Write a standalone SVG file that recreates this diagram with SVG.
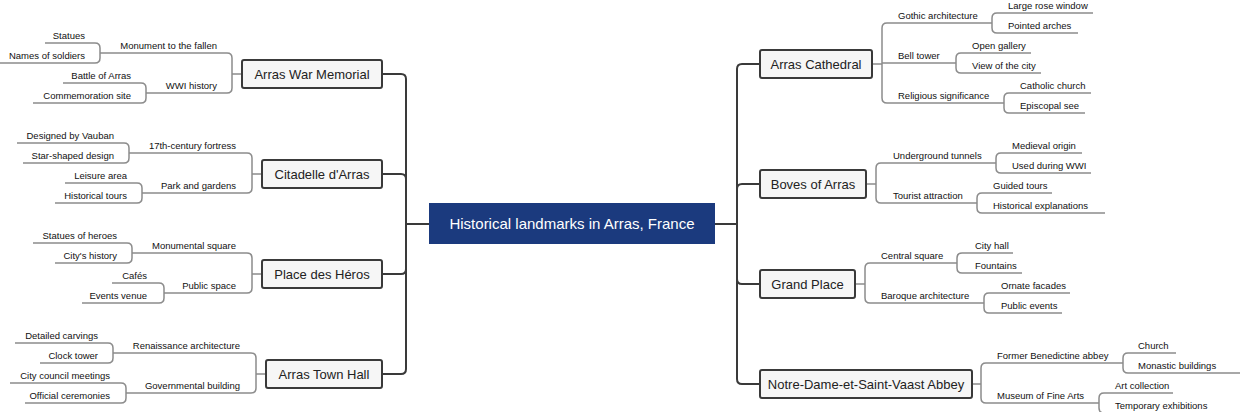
<svg xmlns="http://www.w3.org/2000/svg" width="1240" height="412" viewBox="0 0 1240 412">
<style>
.main{fill:none;stroke:#3a3a3a;stroke-width:2}
.sub{fill:none;stroke:#8c8c8c;stroke-width:1.5}
.box{fill:#f6f6f6;stroke:#3a3a3a;stroke-width:2}
.bt{font-family:"Liberation Sans",Arial,sans-serif;font-size:13px;fill:#222;text-anchor:middle}
.t{font-family:"Liberation Sans",Arial,sans-serif;font-size:9.5px;fill:#111}
.r{text-anchor:end}
</style>
<rect width="1240" height="412" fill="#fff"/>
<g id="connectors">
<path class="main" d="M429,224 H406 M406,224 V79 Q406,74 401,74 H382 M406,224 V179 Q406,174 401,174 H382 M406,224 V269 Q406,274 401,274 H382 M406,224 V369 Q406,374 401,374 H382"/>
<path class="main" d="M715,224 H737 M737,224 V69 Q737,64 742,64 H760 M737,224 V189 Q737,184 742,184 H760 M737,224 V279 Q737,284 742,284 H760 M737,224 V379 Q737,384 742,384 H760"/>
<path class="sub" d="M872,64 H882 M882,64 V28 Q882,23 887,23 H992 M882,64 V63 H956 M882,64 V98 Q882,103 887,103 H1004
M992,23 V18 Q992,13 997,13 H1093 M992,23 V28 Q992,33 997,33 H1078
M956,63 V58 Q956,53 961,53 H1031 M956,63 V68 Q956,73 961,73 H1041
M1004,103 V98 Q1004,93 1009,93 H1091 M1004,103 V108 Q1004,113 1009,113 H1085"/>
<path class="sub" d="M866,184 H876 M876,184 V168 Q876,163 881,163 H996 M876,184 V198 Q876,203 881,203 H977
M996,163 V158 Q996,153 1001,153 H1082 M996,163 V168 Q996,173 1001,173 H1091
M977,203 V198 Q977,193 982,193 H1052 M977,203 V208 Q977,213 982,213 H1105"/>
<path class="sub" d="M855,284 H865 M865,284 V268 Q865,263 870,263 H957 M865,284 V298 Q865,303 870,303 H984
M957,263 V258 Q957,253 962,253 H1013 M957,263 V268 Q957,273 962,273 H1022
M984,303 V298 Q984,293 989,293 H1070 M984,303 V308 Q984,313 989,313 H1062"/>
<path class="sub" d="M972,384 H981 M981,384 V368 Q981,363 986,363 H1123 M981,384 V398 Q981,403 986,403 H1099
M1123,363 V358 Q1123,353 1128,353 H1176 M1123,363 V368 Q1123,373 1128,373 H1240
M1099,403 V398 Q1099,393 1104,393 H1173 M1099,403 V408 Q1099,413 1104,413 H1240"/>
<path class="sub" d="M242,74 H232 M232,74 V58 Q232,53 227,53 H100 M232,74 V88 Q232,93 227,93 H146
M100,53 V48 Q100,43 95,43 H45 M100,53 V58 Q100,63 95,63 H0
M146,93 V88 Q146,83 141,83 H63 M146,93 V98 Q146,103 141,103 H33"/>
<path class="sub" d="M262,174 H252 M252,174 V158 Q252,153 247,153 H129 M252,174 V188 Q252,193 247,193 H142
M129,153 V148 Q129,143 124,143 H17 M129,153 V158 Q129,163 124,163 H23
M142,193 V188 Q142,183 137,183 H65 M142,193 V198 Q142,203 137,203 H55"/>
<path class="sub" d="M262,274 H252 M252,274 V258 Q252,253 247,253 H132 M252,274 V288 Q252,293 247,293 H164
M132,253 V248 Q132,243 127,243 H33 M132,253 V258 Q132,263 127,263 H55
M164,293 V288 Q164,283 159,283 H112 M164,293 V298 Q164,303 159,303 H82"/>
<path class="sub" d="M266,374 H256 M256,374 V358 Q256,353 251,353 H113 M256,374 V388 Q256,393 251,393 H126
M113,353 V348 Q113,343 108,343 H15 M113,353 V358 Q113,363 108,363 H40
M126,393 V388 Q126,383 121,383 H10 M126,393 V398 Q126,403 121,403 H25"/>
</g>
<g id="root"><rect x="429" y="203" width="286" height="41" fill="#1b3a7e"/><text x="572" y="229" font-family="Liberation Sans,Arial,sans-serif" font-size="15" fill="#fff" text-anchor="middle">Historical landmarks in Arras, France</text></g>
<g id="n-memorial"><rect class="box" x="242" y="60" width="140" height="28" rx="2"/><text class="bt" x="312" y="79">Arras War Memorial</text>
<text class="t r" x="217" y="49">Monument to the fallen</text><text class="t r" x="217" y="89">WWI history</text>
<text class="t r" x="85" y="39">Statues</text><text class="t r" x="85" y="59">Names of soldiers</text><text class="t r" x="131" y="79">Battle of Arras</text><text class="t r" x="131" y="99">Commemoration site</text></g>
<g id="n-citadelle"><rect class="box" x="262" y="160" width="120" height="28" rx="2"/><text class="bt" x="322" y="179">Citadelle d'Arras</text>
<text class="t r" x="236" y="149">17th-century fortress</text><text class="t r" x="236" y="189">Park and gardens</text>
<text class="t r" x="114" y="139">Designed by Vauban</text><text class="t r" x="114" y="159">Star-shaped design</text><text class="t r" x="127" y="179">Leisure area</text><text class="t r" x="127" y="199">Historical tours</text></g>
<g id="n-heros"><rect class="box" x="262" y="260" width="120" height="28" rx="2"/><text class="bt" x="322" y="279">Place des Héros</text>
<text class="t r" x="236" y="249">Monumental square</text><text class="t r" x="236" y="289">Public space</text>
<text class="t r" x="117" y="239">Statues of heroes</text><text class="t r" x="117" y="259">City's history</text><text class="t r" x="147" y="279">Cafés</text><text class="t r" x="147" y="299">Events venue</text></g>
<g id="n-townhall"><rect class="box" x="266" y="360" width="116" height="28" rx="2"/><text class="bt" x="324" y="379">Arras Town Hall</text>
<text class="t r" x="240" y="349">Renaissance architecture</text><text class="t r" x="240" y="389">Governmental building</text>
<text class="t r" x="98" y="339">Detailed carvings</text><text class="t r" x="98" y="359">Clock tower</text><text class="t r" x="110" y="379">City council meetings</text><text class="t r" x="110" y="399">Official ceremonies</text></g>
<g id="n-cathedral"><rect class="box" x="760" y="50" width="112" height="28" rx="2"/><text class="bt" x="816" y="69">Arras Cathedral</text>
<text class="t" x="898" y="19">Gothic architecture</text><text class="t" x="898" y="59">Bell tower</text><text class="t" x="898" y="99">Religious significance</text>
<text class="t" x="1008" y="9">Large rose window</text><text class="t" x="1008" y="29">Pointed arches</text><text class="t" x="972" y="49">Open gallery</text><text class="t" x="972" y="69">View of the city</text><text class="t" x="1020" y="89">Catholic church</text><text class="t" x="1020" y="109">Episcopal see</text></g>
<g id="n-boves"><rect class="box" x="760" y="170" width="106" height="28" rx="2"/><text class="bt" x="813" y="189">Boves of Arras</text>
<text class="t" x="893" y="159">Underground tunnels</text><text class="t" x="893" y="199">Tourist attraction</text>
<text class="t" x="1012" y="149">Medieval origin</text><text class="t" x="1012" y="169">Used during WWI</text><text class="t" x="993" y="189">Guided tours</text><text class="t" x="993" y="209">Historical explanations</text></g>
<g id="n-grandplace"><rect class="box" x="760" y="270" width="95" height="28" rx="2"/><text class="bt" x="807.5" y="289">Grand Place</text>
<text class="t" x="881" y="259">Central square</text><text class="t" x="881" y="299">Baroque architecture</text>
<text class="t" x="975" y="249">City hall</text><text class="t" x="975" y="269">Fountains</text><text class="t" x="1001" y="289">Ornate facades</text><text class="t" x="1001" y="309">Public events</text></g>
<g id="n-abbey"><rect class="box" x="760" y="370" width="212" height="28" rx="2"/><text class="bt" x="866" y="389">Notre-Dame-et-Saint-Vaast Abbey</text>
<text class="t" x="997" y="359">Former Benedictine abbey</text><text class="t" x="997" y="399">Museum of Fine Arts</text>
<text class="t" x="1138" y="349">Church</text><text class="t" x="1138" y="369">Monastic buildings</text><text class="t" x="1115" y="389">Art collection</text><text class="t" x="1115" y="409">Temporary exhibitions</text></g>
</svg>
